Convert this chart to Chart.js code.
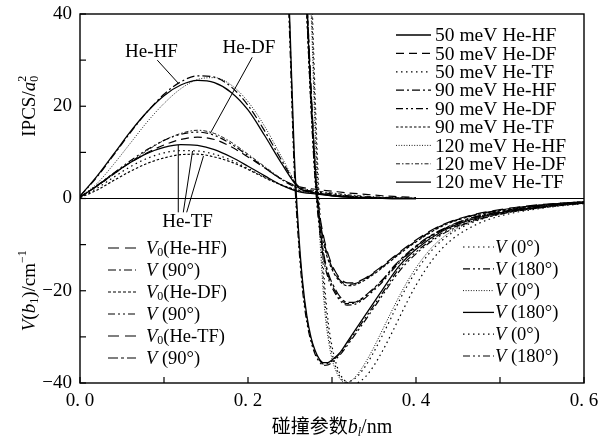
<!DOCTYPE html>
<html>
<head>
<meta charset="utf-8">
<script src="https://cdn.jsdelivr.net/npm/chart.js@4.4.1/dist/chart.umd.min.js"></script>
<style>
html, body { margin: 0; padding: 0; background: #fff; }
</style>
</head>
<body>
<canvas id="ipcsChart" width="599" height="446"></canvas>
<script>
// impact parameter grid for the IPCS curves (nm)
const bIPCS = [0, 0.02, 0.04, 0.06, 0.08, 0.10, 0.12, 0.14, 0.16, 0.18, 0.20, 0.22, 0.24, 0.26, 0.28, 0.30, 0.32, 0.34, 0.36, 0.38, 0.40];
// IPCS / a0^2
const hf50  = [0.5, 4.8, 9.6, 14.5, 18.8, 22.3, 24.6, 25.6, 25.1, 23.0, 19.2, 13.6, 7.6, 2.4, 1.2, 0.6, 0.3, 0.15, 0.05, 0, 0];
const df50  = [0.3, 2.7, 5.3, 7.8, 9.9, 11.6, 12.8, 13.3, 12.8, 11.2, 9.0, 6.6, 4.2, 2.6, 2.0, 1.6, 1.2, 0.9, 0.6, 0.4, 0.2];
const tf50  = [0.2, 2.2, 4.6, 6.9, 8.7, 9.9, 10.4, 10.3, 9.6, 8.3, 6.5, 4.6, 2.9, 1.7, 1.1, 0.7, 0.4, 0.2, 0.1, 0, 0];
const hf90  = [0.5, 4.6, 9.4, 14.3, 18.8, 22.6, 25.3, 26.6, 26.3, 24.2, 20.2, 14.6, 8.3, 2.6, 1.3, 0.7, 0.35, 0.15, 0.05, 0, 0];
const df90  = [0.3, 2.8, 5.5, 8.2, 10.6, 12.6, 13.9, 14.4, 13.7, 11.8, 9.3, 6.7, 4.1, 2.2, 1.5, 1.0, 0.6, 0.35, 0.2, 0.1, 0];
const tf90  = [0.2, 1.8, 3.9, 5.9, 7.6, 8.8, 9.5, 9.6, 9.0, 7.9, 6.3, 4.5, 2.9, 1.8, 1.2, 0.8, 0.5, 0.25, 0.1, 0, 0];
const hf120 = [0.3, 3.2, 7.4, 12.0, 16.6, 20.6, 23.8, 25.8, 26.2, 24.6, 21.0, 15.6, 9.0, 2.8, 1.4, 0.7, 0.35, 0.15, 0.05, 0, 0];
const df120 = [0.3, 2.6, 5.2, 7.9, 10.4, 12.6, 14.1, 14.8, 14.1, 12.2, 9.6, 6.9, 4.3, 2.4, 1.7, 1.2, 0.8, 0.5, 0.3, 0.15, 0.05];
const tf120 = [0.3, 2.7, 5.4, 7.8, 9.8, 11.1, 11.7, 11.5, 10.6, 9.0, 7.0, 4.9, 2.9, 1.5, 1.0, 0.6, 0.3, 0.15, 0.05, 0, 0];

// potentials V(b) / cm^-1
const bV = [0.266, 0.27, 0.275, 0.28, 0.284, 0.29, 0.296, 0.302, 0.31, 0.318, 0.326, 0.335, 0.345, 0.36, 0.375, 0.39, 0.41, 0.43, 0.46, 0.50, 0.55, 0.60];
const v0HF  = [60, 42, 22, 6, -2.5, -9, -13, -15.7, -17.8, -18.6, -18.5, -17.9, -16.8, -14.8, -12.6, -10.5, -8, -5.9, -4, -2.5, -1.4, -0.7];
const v90HF = [60, 42, 22, 5, -4, -12.5, -17, -19.5, -21.8, -22.8, -22.7, -21.9, -20.4, -17.8, -14.6, -12, -9, -6.9, -4.6, -2.9, -1.6, -0.8];
const v0DF  = [58, 40, 20, 4.5, -3.5, -9.8, -13.6, -16.1, -18.1, -18.9, -18.8, -18.1, -17.0, -15.0, -12.8, -10.7, -8.2, -6.1, -4.1, -2.6, -1.4, -0.7];
const v90DF = [58, 40, 20, 3.5, -5, -13.2, -17.6, -20, -22.2, -23.1, -23.0, -22.2, -20.7, -18.1, -14.9, -12.2, -9.2, -7.0, -4.7, -3.0, -1.6, -0.8];
const v0TF  = [62, 44, 24, 7.5, -1.5, -8.2, -12.4, -15.2, -17.4, -18.3, -18.3, -17.7, -16.6, -14.6, -12.4, -10.3, -7.8, -5.8, -3.9, -2.4, -1.3, -0.7];
const v90TF = [62, 44, 24, 6.5, -3, -11.8, -16.4, -19, -21.4, -22.5, -22.5, -21.7, -20.2, -17.6, -14.4, -11.8, -8.9, -6.8, -4.5, -2.8, -1.5, -0.8];

const bV0deg = [0.272, 0.276, 0.28, 0.284, 0.288, 0.292, 0.296, 0.30, 0.305, 0.31, 0.316, 0.322, 0.33, 0.34, 0.35, 0.36, 0.37, 0.38, 0.39, 0.40, 0.42, 0.44, 0.47, 0.50, 0.55, 0.60];
const v0degHF = [60, 40, 18, 0, -13, -23, -29.5, -33.5, -36.8, -38.8, -39.8, -39.6, -38.6, -36.3, -33.2, -29.7, -26, -22.2, -18.8, -15.8, -11, -7.8, -5, -3.4, -1.9, -1.0];
const v0degDF = [56, 36, 14, -3, -16, -25.5, -31, -34.8, -37.5, -39.2, -40, -39.6, -38.2, -35.5, -32.2, -28.5, -24.8, -21.2, -17.9, -15.0, -10.4, -7.4, -4.8, -3.2, -1.8, -0.9];
const v0degTF = [64, 44, 22, 3, -10, -20.5, -27.5, -32, -35.8, -38.2, -39.6, -40.2, -40, -38.6, -36.2, -33.1, -29.6, -25.9, -22.2, -18.8, -13.2, -9.3, -5.8, -3.8, -2.1, -1.1];

const bV180 = [0.245, 0.25, 0.255, 0.26, 0.265, 0.27, 0.275, 0.28, 0.285, 0.29, 0.295, 0.30, 0.31, 0.32, 0.34, 0.36, 0.38, 0.40, 0.43, 0.46, 0.50, 0.55, 0.60];
const v180HF = [60, 35, 8, -8, -19, -26, -30.5, -33.3, -35, -35.9, -35.8, -35.2, -33.5, -31, -25.8, -20.5, -15.2, -11.6, -7.6, -5.2, -3.3, -1.9, -1.0];
const v180DF = [62, 37, 10, -6.5, -18, -25.4, -30.1, -33, -34.8, -35.6, -35.6, -35.0, -33.3, -30.6, -25.2, -19.8, -14.6, -11.0, -7.2, -4.9, -3.1, -1.8, -0.9];
const v180TF = [58, 33, 6.5, -9, -20, -26.8, -31, -33.8, -35.4, -36.2, -36.1, -35.5, -33.8, -31.4, -26.3, -21, -15.8, -12.0, -7.9, -5.4, -3.4, -2.0, -1.0];

const SERIF = '"Liberation Serif", "DejaVu Serif", "Noto Sans CJK SC", serif';
const fnt = (size, italic) => (italic ? 'italic ' : '') + size + 'px ' + SERIF;

const SOLID = [], DASH = [8, 5], LONGDASH = [11, 6], SHORTDASH = [3, 2], DOT = [1.5, 3.5], FINEDOT = [1, 1.6];
const DASHDOT = [8, 3, 2, 3], DASHDOTDOT = [7, 3, 2, 3, 2, 3], FINEDASHDOT = [4, 2, 1.5, 2];

function ds(bs, vs, dash, width, key) {
  return {
    data: bs.map((b, i) => ({ x: b, y: vs[i] })),
    borderColor: '#000', borderWidth: width || 1.2, borderDash: dash,
    pointRadius: 0, fill: false, cubicInterpolationMode: 'monotone', legendKey: key
  };
}

const datasets = [
  ds(bIPCS, hf50, SOLID, 1.3, 'tr'),
  ds(bIPCS, df50, DASH, 1.2, 'tr'),
  ds(bIPCS, tf50, DOT, 1.2, 'tr'),
  ds(bIPCS, hf90, DASHDOT, 1.2, 'tr'),
  ds(bIPCS, df90, DASHDOTDOT, 1.2, 'tr'),
  ds(bIPCS, tf90, [2.5, 2], 1.2, 'tr'),
  ds(bIPCS, hf120, FINEDOT, 0.9, 'tr'),
  ds(bIPCS, df120, FINEDASHDOT, 0.9, 'tr'),
  ds(bIPCS, tf120, SOLID, 1.3, 'tr'),
  ds(bV, v0HF, LONGDASH, 1.2, 'l'),
  ds(bV, v90HF, DASHDOT, 1.2, 'l'),
  ds(bV, v0DF, SHORTDASH, 1.2, 'l'),
  ds(bV, v90DF, DASHDOTDOT, 1.2, 'l'),
  ds(bV, v0TF, LONGDASH, 1.2, 'l'),
  ds(bV, v90TF, [10, 3, 3, 3], 1.2, 'l'),
  ds(bV0deg, v0degHF, DOT, 1.2, 'r'),
  ds(bV180, v180HF, DASHDOTDOT, 1.2, 'r'),
  ds(bV0deg, v0degDF, FINEDOT, 0.9, 'r'),
  ds(bV180, v180DF, SOLID, 1.3, 'r'),
  ds(bV0deg, v0degTF, DOT, 1.2, 'r'),
  ds(bV180, v180TF, DASHDOTDOT, 1.2, 'r')
];

const legendTR = ['50 meV He-HF', '50 meV He-DF', '50 meV He-TF', '90 meV He-HF', '90 meV He-DF', '90 meV He-TF', '120 meV He-HF', '120 meV He-DF', '120 meV He-TF'];
const V = { t: 'V', i: true };
const legendL = [
  [V, { t: '0', s: 12, dy: 4 }, { t: '(He-HF)' }],
  [V, { t: ' (90°)' }],
  [V, { t: '0', s: 12, dy: 4 }, { t: '(He-DF)' }],
  [V, { t: ' (90°)' }],
  [V, { t: '0', s: 12, dy: 4 }, { t: '(He-TF)' }],
  [V, { t: ' (90°)' }]
];
const legendR = [
  [V, { t: ' (0°)' }], [V, { t: ' (180°)' }],
  [V, { t: ' (0°)' }], [V, { t: ' (180°)' }],
  [V, { t: ' (0°)' }], [V, { t: ' (180°)' }]
];

// rich text: parts of {t, s(size), i(italic), dy, adv}
function rich(ctx, parts, x, y, align, size) {
  const base = size || 18;
  let w = 0;
  parts.forEach(p => { ctx.font = fnt(p.s || base, p.i); w += p.adv !== undefined ? p.adv : ctx.measureText(p.t).width; });
  let cx = align === 'center' ? x - w / 2 : x;
  parts.forEach(p => {
    ctx.font = fnt(p.s || base, p.i);
    ctx.fillText(p.t, cx, y + (p.dy || 0));
    cx += p.adv !== undefined ? p.adv : ctx.measureText(p.t).width;
  });
}
function seg(ctx, x1, y1, x2, y2) { ctx.beginPath(); ctx.moveTo(x1, y1); ctx.lineTo(x2, y2); ctx.stroke(); }

const groupLabels = [
  { text: 'He-HF', at: [0.085, 31.8], leaders: [[[0.092, 30.0], [0.117, 25.0]]] },
  { text: 'He-DF', at: [0.201, 32.6], leaders: [[[0.205, 30.6], [0.155, 14.1]]] },
  { text: 'He-TF', at: [0.128, -5.0], leaders: [[[0.117, -3], [0.117, 11.6]], [[0.123, -3], [0.134, 10.3]], [[0.127, -3], [0.147, 9.2]]] }
];

const decor = {
  id: 'decor',
  afterDatasetsDraw(chart) {
    const { ctx, chartArea: a, scales: { x, y } } = chart;
    ctx.save();
    ctx.strokeStyle = '#000';
    ctx.fillStyle = '#000';
    ctx.setLineDash([]);
    ctx.lineWidth = 1.4;
    ctx.strokeRect(a.left, a.top, a.right - a.left, a.bottom - a.top);
    ctx.lineWidth = 1.2;
    const y0 = y.getPixelForValue(0);
    seg(ctx, a.left, y0, a.right, y0);
    x.ticks.forEach(t => { const px = x.getPixelForValue(t.value); seg(ctx, px, a.bottom, px, a.bottom - 6); });
    y.ticks.forEach(t => { const py = y.getPixelForValue(t.value); seg(ctx, a.left, py, a.left + 6, py); });

    // group labels with leader lines
    ctx.lineWidth = 1;
    ctx.textBaseline = 'middle';
    groupLabels.forEach(g => {
      rich(ctx, [{ t: g.text }], x.getPixelForValue(g.at[0]), y.getPixelForValue(g.at[1]), 'center', 19);
      g.leaders.forEach(l => seg(ctx, x.getPixelForValue(l[0][0]), y.getPixelForValue(l[0][1]), x.getPixelForValue(l[1][0]), y.getPixelForValue(l[1][1])));
    });

    // legends
    const sample = (d, x1, x2, yy) => {
      ctx.lineWidth = d.borderWidth;
      ctx.setLineDash(d.borderDash);
      seg(ctx, x1, yy, x2, yy);
      ctx.setLineDash([]);
    };
    const tr = datasets.filter(d => d.legendKey === 'tr');
    tr.forEach((d, i) => {
      const yy = 35 + i * 18.4;
      sample(d, 396, 431, yy);
      rich(ctx, [{ t: legendTR[i] }], 435, yy + 1, 'left', 19.5);
    });
    const lf = datasets.filter(d => d.legendKey === 'l');
    lf.forEach((d, i) => {
      const yy = 248 + i * 22;
      sample(d, 108, 136, yy);
      rich(ctx, legendL[i], 146, yy + 1, 'left', 18.5);
    });
    const rt = datasets.filter(d => d.legendKey === 'r');
    rt.forEach((d, i) => {
      const yy = 247 + i * 21.8;
      sample(d, 463, 494, yy);
      rich(ctx, legendR[i], 495, yy + 1, 'left', 18.5);
    });

    // axis titles
    ctx.save();
    ctx.translate(30, y.getPixelForValue(20));
    ctx.rotate(-Math.PI / 2);
    rich(ctx, [{ t: 'IPCS/', s: 19 }, { t: 'a', s: 19, i: true }, { t: '0', s: 12, dy: 5, adv: 0 }, { t: '2', s: 12, dy: -7 }], 0, 0, 'center');
    ctx.restore();
    ctx.save();
    ctx.translate(30, y.getPixelForValue(-20));
    ctx.rotate(-Math.PI / 2);
    rich(ctx, [{ t: 'V', s: 19, i: true }, { t: '(', s: 19 }, { t: 'b', s: 19, i: true }, { t: '1', s: 12, dy: 5 }, { t: ')/cm', s: 19 }, { t: '−1', s: 12, dy: -7 }], 0, 0, 'center');
    ctx.restore();
    rich(ctx, [{ t: '碰撞参数', s: 19 }, { t: 'b', s: 20, i: true }, { t: 'l', s: 12, i: true, dy: 5 }, { t: '/nm', s: 20 }], (a.left + a.right) / 2, 428, 'center');
    ctx.restore();
  }
};

const ctx = document.getElementById('ipcsChart').getContext('2d');
new Chart(ctx, {
  type: 'line',
  data: { datasets: datasets },
  options: {
    responsive: false,
    animation: false,
    layout: { padding: { top: 14, right: 15, left: 0, bottom: 0 } },
    plugins: { legend: { display: false }, tooltip: { enabled: false } },
    scales: {
      x: {
        type: 'linear', min: 0, max: 0.6,
        grid: { display: false, drawTicks: false }, border: { display: false },
        ticks: {
          stepSize: 0.1, autoSkip: false, maxRotation: 0, padding: 7, color: '#000',
          font: { family: SERIF, size: 19 },
          callback: v => Math.round(v * 10) % 2 === 0 ? (Math.round(v * 10) / 10).toFixed(1).replace('.', '. ') : ''
        },
        afterFit: s => { s.height = 63; s.paddingLeft = 0; s.paddingRight = 0; }
      },
      y: {
        type: 'linear', min: -40, max: 40,
        grid: { display: false, drawTicks: false }, border: { display: false },
        ticks: {
          stepSize: 10, padding: 8, color: '#000',
          font: { family: SERIF, size: 19 },
          callback: v => v % 20 === 0 ? String(v).replace('-', '−') : ''
        },
        afterFit: s => { s.width = 80; s.paddingTop = 0; s.paddingBottom = 0; }
      }
    }
  },
  plugins: [decor]
});
</script>
</body>
</html>
